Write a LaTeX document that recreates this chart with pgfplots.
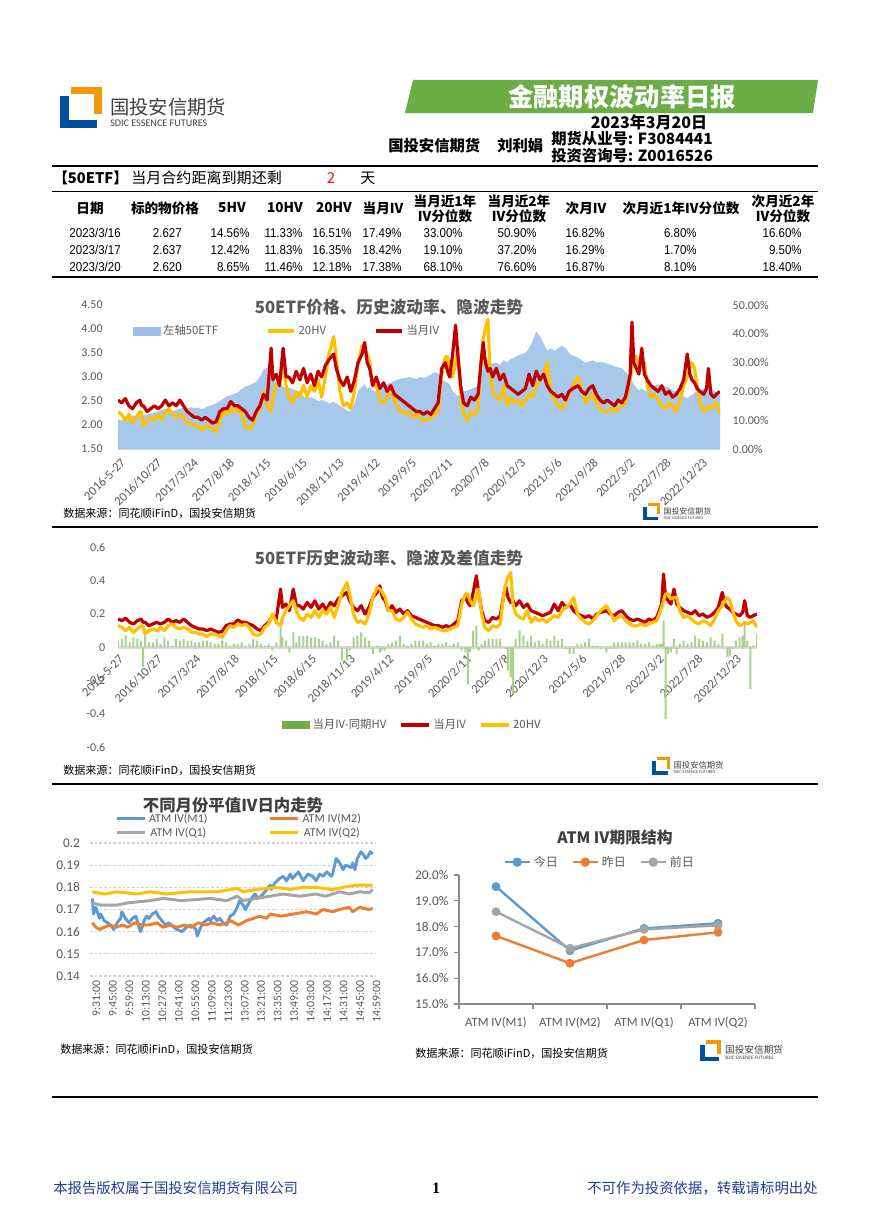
\documentclass[border=0pt]{standalone}
\usepackage{fontspec}
\usepackage{pgfplots}
\usepackage{pgfplotstable}
\pgfplotsset{compat=1.18}
\setmainfont{Carlito}
\newfontfamily\cjk{Noto Sans CJK SC}
\newfontfamily\arial[FakeStretch=0.9]{Liberation Sans}
\newfontfamily\lserif{Liberation Serif}
\definecolor{tgray}{HTML}{595959}
\definecolor{ivred}{HTML}{C00000}
\definecolor{hvyel}{HTML}{FFC000}
\definecolor{barblue}{HTML}{A7C8EA}
\definecolor{lblue}{HTML}{5B9BD5}
\definecolor{lorange}{HTML}{ED7D31}
\definecolor{lgray}{HTML}{A5A5A5}
\definecolor{lgreen}{HTML}{A9D18E}
\definecolor{dgreen}{HTML}{70AD47}
\definecolor{banner}{HTML}{6CAE45}
\definecolor{footblue}{HTML}{1F3F8F}
\definecolor{logoorange}{HTML}{F39800}
\definecolor{logoblue}{HTML}{0050A0}
\definecolor{logotext}{HTML}{404040}

\pgfplotstableread{
d p iv hv df
0 2.12 0.170 0.130 0.04
10 2.10 0.160 0.120 0.05
20 2.14 0.175 0.100 0.07
30 2.18 0.150 0.120 0.03
40 2.20 0.140 0.090 0.06
50 2.18 0.160 0.110 0.05
60 2.22 0.170 0.130 0.04
65 2.21 0.150 0.125 -0.12
70 2.20 0.150 0.080 0.07
80 2.22 0.130 0.100 0.03
90 2.24 0.140 0.110 0.03
100 2.25 0.150 0.100 0.05
110 2.28 0.140 0.120 0.02
120 2.32 0.150 0.100 0.06
130 2.33 0.170 0.130 0.04
140 2.30 0.150 0.140 0.01
150 2.28 0.160 0.120 0.05
160 2.32 0.150 0.110 0.04
170 2.34 0.170 0.120 0.05
180 2.36 0.150 0.110 0.04
190 2.35 0.130 0.090 0.04
200 2.37 0.120 0.090 0.03
210 2.35 0.110 0.080 0.03
220 2.36 0.110 0.080 0.04
230 2.33 0.100 0.065 0.04
240 2.36 0.110 0.080 0.03
250 2.40 0.100 0.080 0.02
260 2.42 0.090 0.070 0.02
270 2.45 0.095 0.060 0.04
280 2.50 0.130 0.100 0.03
290 2.55 0.140 0.130 0.01
300 2.60 0.140 0.120 0.02
310 2.62 0.165 0.140 0.02
320 2.65 0.150 0.130 0.03
330 2.68 0.150 0.140 0.01
340 2.75 0.140 0.120 0.02
350 2.80 0.130 0.080 0.05
360 2.82 0.110 0.070 0.04
370 2.86 0.100 0.080 0.02
380 2.90 0.130 0.120 0.01
390 3.00 0.150 0.140 0.02
400 3.15 0.190 0.200 -0.02
410 3.20 0.170 0.150 0.03
421 3.10 0.350 0.130 0.12
426 2.95 0.240 0.180 0.06
435 2.90 0.260 0.220 0.04
444 2.85 0.220 0.250 -0.03
454 2.80 0.350 0.280 0.09
462 2.75 0.250 0.220 0.03
470 2.78 0.250 0.180 0.07
480 2.75 0.230 0.160 0.07
490 2.72 0.270 0.200 0.07
500 2.70 0.240 0.180 0.06
510 2.60 0.280 0.220 0.06
520 2.55 0.230 0.180 0.05
530 2.58 0.260 0.220 0.04
540 2.55 0.220 0.200 0.02
550 2.50 0.270 0.240 0.03
560 2.52 0.250 0.180 0.07
570 2.50 0.290 0.250 0.04
580 2.45 0.310 0.330 -0.08
593 2.48 0.330 0.390 -0.08
600 2.45 0.280 0.320 -0.02
610 2.40 0.240 0.200 0.06
620 2.35 0.220 0.150 0.07
630 2.30 0.250 0.160 0.09
640 2.28 0.200 0.140 0.06
650 2.45 0.240 0.200 0.04
660 2.70 0.300 0.300 -0.04
671 2.80 0.330 0.360 0.01
678 2.85 0.370 0.350 -0.03
685 2.75 0.300 0.330 -0.02
692 2.80 0.280 0.300 -0.02
700 2.72 0.220 0.220 0.02
710 2.70 0.250 0.220 0.03
720 2.75 0.210 0.170 0.04
730 2.80 0.230 0.160 0.07
740 2.85 0.200 0.180 0.02
750 2.88 0.220 0.210 0.01
760 2.92 0.190 0.170 0.02
770 2.95 0.180 0.140 0.04
780 2.97 0.170 0.130 0.04
790 2.98 0.160 0.120 0.04
800 3.00 0.150 0.130 0.02
810 2.98 0.140 0.110 0.03
820 2.96 0.130 0.120 0.01
830 3.00 0.130 0.110 0.02
840 2.98 0.120 0.100 0.02
850 3.00 0.130 0.100 0.03
860 3.05 0.120 0.110 0.01
870 3.10 0.140 0.120 0.02
880 3.08 0.160 0.130 0.03
890 2.95 0.280 0.260 -0.02
900 2.90 0.300 0.320 -0.03
906 2.88 0.270 0.320 -0.22
912 2.85 0.250 0.280 -0.03
920 2.70 0.330 0.250 0.10
928 2.65 0.430 0.300 0.13
934 2.60 0.330 0.350 -0.02
942 2.65 0.220 0.200 0.02
950 2.70 0.160 0.120 0.04
960 2.72 0.150 0.100 0.05
970 2.75 0.180 0.130 0.05
980 2.78 0.170 0.120 0.05
990 2.80 0.190 0.140 0.05
998 2.95 0.300 0.300 0.00
1004 3.25 0.370 0.380 -0.01
1010 3.35 0.300 0.420 -0.14
1017 3.35 0.270 0.450 -0.18
1023 3.30 0.280 0.260 -0.28
1030 3.28 0.250 0.200 0.05
1040 3.30 0.280 0.180 0.10
1050 3.25 0.240 0.170 0.07
1060 3.35 0.260 0.220 0.04
1070 3.30 0.220 0.150 0.07
1080 3.38 0.210 0.180 0.03
1090 3.40 0.200 0.160 0.04
1100 3.45 0.190 0.170 0.02
1110 3.48 0.200 0.150 0.05
1120 3.50 0.210 0.170 0.04
1130 3.60 0.260 0.190 0.07
1140 3.75 0.220 0.180 0.04
1150 3.95 0.270 0.220 0.05
1160 3.85 0.240 0.240 -0.01
1170 3.70 0.260 0.260 -0.04
1180 3.55 0.220 0.300 -0.04
1190 3.60 0.200 0.200 0.02
1200 3.55 0.190 0.170 0.02
1210 3.60 0.180 0.150 0.03
1220 3.65 0.190 0.140 0.05
1230 3.60 0.170 0.160 0.01
1240 3.50 0.200 0.190 0.01
1250 3.45 0.210 0.220 -0.01
1265 3.40 0.220 0.250 -0.03
1275 3.35 0.200 0.210 -0.01
1285 3.30 0.190 0.160 0.03
1295 3.32 0.210 0.180 0.03
1305 3.35 0.220 0.190 0.03
1315 3.30 0.190 0.160 0.03
1325 3.32 0.170 0.140 0.03
1335 3.30 0.160 0.130 0.03
1345 3.28 0.170 0.130 0.04
1355 3.25 0.160 0.140 0.02
1365 3.22 0.150 0.130 0.02
1375 3.20 0.170 0.140 0.03
1385 3.18 0.160 0.150 0.01
1395 3.10 0.180 0.160 0.02
1402 3.05 0.220 0.200 0.02
1408 2.98 0.260 0.240 0.02
1413 2.92 0.440 0.280 0.16
1418 2.85 0.300 0.320 -0.43
1425 2.78 0.280 0.320 -0.04
1432 2.72 0.260 0.290 -0.03
1440 2.75 0.350 0.300 0.05
1447 2.72 0.260 0.300 -0.04
1455 2.70 0.240 0.220 0.02
1465 2.78 0.220 0.180 0.04
1475 2.82 0.210 0.190 0.02
1485 2.85 0.200 0.170 0.03
1495 2.82 0.220 0.150 0.07
1505 2.80 0.190 0.140 0.05
1515 2.78 0.200 0.160 0.04
1525 2.72 0.180 0.150 0.03
1535 2.70 0.190 0.130 0.06
1545 2.65 0.210 0.170 0.04
1555 2.60 0.240 0.220 0.02
1565 2.55 0.330 0.250 0.08
1572 2.60 0.260 0.280 0.00
1578 2.62 0.240 0.300 -0.06
1585 2.68 0.230 0.280 -0.05
1592 2.70 0.210 0.220 -0.01
1600 2.72 0.200 0.160 0.04
1610 2.75 0.190 0.130 0.06
1618 2.80 0.210 0.140 0.07
1623 2.78 0.280 0.150 0.14
1630 2.75 0.190 0.140 0.04
1638 2.72 0.180 0.150 -0.25
1645 2.68 0.190 0.160 0.01
1655 2.62 0.200 0.120 0.08
}\bigdata

\pgfplotstableread{
i v
0 0.175
1 0.168
3 0.171
6 0.166
7 0.168
10 0.165
13 0.164
17 0.162
18 0.161
21 0.164
24 0.166
25 0.169
28 0.166
31 0.164
34 0.166
37 0.167
39 0.163
41 0.160
44 0.165
46 0.167
48 0.166
51 0.168
54 0.169
56 0.167
59 0.165
62 0.163
65 0.164
69 0.162
72 0.161
76 0.160
80 0.162
83 0.163
86 0.162
88 0.161
89 0.158
92 0.162
94 0.164
99 0.166
100 0.165
103 0.167
106 0.165
108 0.166
111 0.164
114 0.163
117 0.167
120 0.168
123 0.171
125 0.174
128 0.172
130 0.170
132 0.172
135 0.175
138 0.177
141 0.175
145 0.177
148 0.179
151 0.181
152 0.179
155 0.182
159 0.184
162 0.185
165 0.183
168 0.186
170 0.184
175 0.187
177 0.185
179 0.183
183 0.186
187 0.185
190 0.183
193 0.186
196 0.185
199 0.187
203 0.185
204 0.186
207 0.193
210 0.191
213 0.188
215 0.190
220 0.189
221 0.191
223 0.188
225 0.193
228 0.196
230 0.195
232 0.193
234 0.194
236 0.196
238 0.195
}\mone

\pgfplotstableread{
i v
0 0.164
3 0.162
6 0.161
10 0.162
15 0.163
20 0.162
26 0.163
30 0.162
36 0.164
42 0.163
48 0.163
55 0.164
60 0.162
66 0.163
72 0.162
78 0.163
84 0.162
90 0.164
96 0.163
102 0.164
108 0.163
114 0.164
117 0.165
124 0.163
131 0.165
137 0.166
142 0.167
148 0.166
151 0.168
160 0.167
171 0.168
182 0.169
190 0.168
196 0.170
204 0.169
210 0.170
218 0.171
221 0.169
227 0.171
235 0.170
238 0.1705
}\mtwo

\pgfplotstableread{
i v
0 0.173
7 0.172
21 0.172
30 0.173
49 0.174
60 0.175
76 0.174
100 0.175
114 0.174
123 0.176
128 0.174
139 0.175
151 0.176
162 0.177
176 0.176
190 0.177
198 0.176
210 0.178
218 0.177
227 0.178
235 0.1775
238 0.179
}\qone

\pgfplotstableread{
i v
0 0.178
10 0.177
21 0.178
38 0.177
49 0.178
63 0.177
83 0.178
106 0.178
123 0.1795
128 0.178
139 0.179
156 0.180
168 0.179
179 0.180
190 0.180
204 0.179
213 0.180
224 0.181
238 0.181
}\qtwo

\newcommand{\sdiclogo}[3]{%
 \begin{scope}[shift={(#1,#2)}, scale=#3, transform shape]
  \fill[logoorange] (11,0) rectangle (42,7);
  \fill[logoorange] (34,0) rectangle (42,27);
  \fill[logoblue] (0,9) rectangle (9,41);
  \fill[logoblue] (0,33) rectangle (37,41);
  \node[anchor=west, text=logotext] at (50,20) {\cjk\fontsize{14.5}{15}\selectfont 国投安信期货};
  \node[anchor=west, text=logotext] at (50,36) {\fontsize{7.6}{8}\selectfont SDIC ESSENCE FUTURES};
 \end{scope}}

\begin{document}
\begin{tikzpicture}
\path[use as bounding box, fill=white] (0,0) rectangle (652.5pt,-923.25pt);
\begin{scope}[x=0.75pt, y=-0.75pt, every node/.style={inner sep=0pt}]
 % header
 \sdiclogo{60}{87}{1}
 \fill[banner] (413,80) -- (818,80) -- (813,113) -- (405,113) -- cycle;
 \node[text=white] at (622,97) {\cjk\bfseries\fontsize{19}{19}\selectfont 金融期权波动率日报};
 \node at (649,122) {\cjk\bfseries\fontsize{12}{12}\selectfont 2023年3月20日};
 \node[anchor=west] at (388,146) {\cjk\bfseries\fontsize{11.5}{12}\selectfont 国投安信期货};
 \node[anchor=west] at (497,146) {\cjk\bfseries\fontsize{11.5}{12}\selectfont 刘利娟};
 \node[anchor=west] at (551,139) {\cjk\bfseries\fontsize{11.5}{12}\selectfont 期货从业号: F3084441};
 \node[anchor=west] at (551,156) {\cjk\bfseries\fontsize{11.5}{12}\selectfont 投资咨询号: Z0016526};
 \draw[line width=1.5pt] (52,166) -- (818,166);
 % info row
 \node[anchor=west] at (53,178) {\cjk\bfseries\fontsize{11}{12}\selectfont 【50ETF】};
 \node[anchor=west] at (131,178) {\cjk\fontsize{11.3}{12}\selectfont 当月合约距离到期还剩};
 \node[text=red] at (331,178) {\cjk\fontsize{11.3}{12}\selectfont 2};
 \node at (368,178) {\cjk\fontsize{11.3}{12}\selectfont 天};
 \draw[line width=1.1pt] (52,191.5) -- (818,191.5);
 % table header
 \begin{scope}[every node/.append style={font=\cjk\bfseries\fontsize{10.2}{11.25}\selectfont, align=center}]
  \node at (90,208) {日期};
  \node at (165,208) {标的物价格};
  \node at (232,208) {5HV};
  \node at (285,208) {10HV};
  \node at (334,208) {20HV};
  \node at (383,208) {当月IV};
  \node at (445,208.5) {当月近1年\\IV分位数};
  \node at (519,208.5) {当月近2年\\IV分位数};
  \node at (586,208) {次月IV};
  \node at (681,208) {次月近1年IV分位数};
  \node at (783,208.5) {次月近2年\\IV分位数};
 \end{scope}
 \begin{scope}[every node/.append style={font=\arial\fontsize{9.6}{10}\selectfont, anchor=east}]
  \foreach \yy/\a/\b/\c/\d/\e/\f/\g/\h/\i/\j/\k in {
   233/2023\slash 3\slash 16/2.627/14.56\%/11.33\%/16.51\%/17.49\%/33.00\%/50.90\%/16.82\%/6.80\%/16.60\%,
   250/2023\slash 3\slash 17/2.637/12.42\%/11.83\%/16.35\%/18.42\%/19.10\%/37.20\%/16.29\%/1.70\%/9.50\%,
   267/2023\slash 3\slash 20/2.620/8.65\%/11.46\%/12.18\%/17.38\%/68.10\%/76.60\%/16.87\%/8.10\%/18.40\%}{
   \node at (121,\yy) {\a};
   \node at (182,\yy) {\b};
   \node at (250,\yy) {\c};
   \node at (303,\yy) {\d};
   \node at (352,\yy) {\e};
   \node at (402,\yy) {\f};
   \node at (463,\yy) {\g};
   \node at (537,\yy) {\h};
   \node at (605,\yy) {\i};
   \node at (697,\yy) {\j};
   \node at (802,\yy) {\k};
  }
 \end{scope}
 \draw[line width=1.5pt] (52,277) -- (818,277);
 % chart 1 decorations
 \node[text=tgray] at (389,307) {\cjk\bfseries\fontsize{12.5}{13}\selectfont 50ETF价格、历史波动率、隐波走势};
 \node[anchor=west] at (63,513) {\cjk\fontsize{8.3}{9}\selectfont 数据来源：同花顺iFinD，国投安信期货};
 \sdiclogo{643}{503}{0.41}
 \draw[line width=1.5pt] (52,527) -- (818,527);
 % chart 2 decorations
 \node[text=tgray] at (389,558) {\cjk\bfseries\fontsize{12.5}{13}\selectfont 50ETF历史波动率、隐波及差值走势};
 \node[anchor=west] at (63,770) {\cjk\fontsize{8.3}{9}\selectfont 数据来源：同花顺iFinD，国投安信期货};
 \sdiclogo{652}{757}{0.43}
 \draw[line width=1.5pt] (52,784) -- (818,784);
 % chart 3 and 4 decorations
 \node[text=logotext] at (233,805) {\cjk\bfseries\fontsize{12.3}{13}\selectfont 不同月份平值IV日内走势};
 \node[anchor=west] at (60,1049) {\cjk\fontsize{8.3}{9}\selectfont 数据来源：同花顺iFinD，国投安信期货};
 \node[text=logotext] at (615,838) {\cjk\bfseries\fontsize{11.8}{12}\selectfont ATM IV期限结构};
 \node[anchor=west] at (415,1053) {\cjk\fontsize{8.3}{9}\selectfont 数据来源：同花顺iFinD，国投安信期货};
 \sdiclogo{700}{1040}{0.5}
 \draw[line width=1.5pt] (52,1097) -- (818,1097);
 % footer
 \node[anchor=west, text=footblue] at (53,1188) {\cjk\fontsize{10.8}{11}\selectfont 本报告版权属于国投安信期货有限公司};
 \node at (436,1188) {\lserif\bfseries\fontsize{12}{12}\selectfont 1};
 \node[anchor=east, text=footblue] at (818,1188) {\cjk\fontsize{10.8}{11}\selectfont 不可作为投资依据，转载请标明出处};
\end{scope}

% ===== chart 1 =====
\begin{axis}[
  at={(88.5pt,-336.75pt)}, anchor=south west,
  width=451.5pt, height=108pt, scale only axis,
  xmin=0, xmax=1655, ymin=1.5, ymax=4.5,
  ytick={1.5,2,2.5,3,3.5,4,4.5},
  xtick={0,100,...,1600},
  xticklabels={2016-5-27,2016/10/27,2017/3/24,2017/8/18,2018/1/15,2018/6/15,2018/11/13,2019/4/12,2019/9/5,2020/2/11,2020/7/8,2020/12/3,2021/5/6,2021/9/28,2022/3/2,2022/7/28,2022/12/23},
  axis x line*=bottom, axis y line*=left,
  axis line style={-},
  x axis line style={draw=black!15, line width=2.2pt},
  y axis line style={draw=none},
  major tick length=0pt, tick style={draw=none},
  /pgf/number format/assume math mode=true,
  yticklabel style={font=\fontsize{9}{10}\selectfont, text=tgray, xshift=-8pt, /pgf/number format/.cd, fixed, fixed zerofill, precision=2},
  xticklabel style={font=\fontsize{9.5}{10}\selectfont, text=tgray, rotate=45, anchor=east, yshift=-9pt},
]
\addplot[fill=barblue, draw=none] table[x=d,y=p]{\bigdata} \closedcycle;
\end{axis}
\begin{axis}[
  at={(88.5pt,-336.75pt)}, anchor=south west,
  width=451.5pt, height=108pt, scale only axis,
  xmin=0, xmax=1655, ymin=0, ymax=0.5,
  ytick={0,0.1,0.2,0.3,0.4,0.5},
  hide x axis,
  axis y line*=right, axis line style={-}, y axis line style={draw=none},
  major tick length=0pt, tick style={draw=none},
  /pgf/number format/assume math mode=true,
  yticklabel={\pgfmathparse{\tick*100}\pgfmathprintnumber[fixed,fixed zerofill,precision=2]{\pgfmathresult}\%},
  yticklabel style={font=\fontsize{9}{10}\selectfont, text=tgray, xshift=6pt},
  legend columns=3,
  legend style={at={(0.025,0.82)}, anchor=west, draw=none, fill=none, inner sep=0pt,
    font=\cjk\fontsize{8.5}{9}\selectfont, text=tgray,
    /tikz/every even column/.append style={column sep=34pt}},
  legend image code/.code={\draw[#1, line width=2.4pt] (0pt,0pt) -- (20pt,0pt);},
]
\addlegendimage{legend image code/.code={\fill[barblue!80!lblue] (0pt,-3pt) rectangle (20pt,3pt);}}
\addlegendentry{左轴50ETF}
\addplot[hvyel, line width=2.4pt, line join=round] table[x=d,y=hv]{\bigdata};
\addlegendentry{20HV}
\addplot[ivred, line width=2.4pt, line join=round] table[x=d,y=iv]{\bigdata};
\addlegendentry{当月IV}
\end{axis}

% ===== chart 2 =====
\begin{axis}[
  at={(88.5pt,-560.25pt)}, anchor=south west,
  width=479.25pt, height=149.6pt, scale only axis,
  xmin=0, xmax=1655, ymin=-0.6, ymax=0.6,
  ytick={-0.6,-0.4,-0.2,0,0.2,0.4,0.6},
  xtick={0,100,...,1600},
  xticklabels={2016-5-27,2016/10/27,2017/3/24,2017/8/18,2018/1/15,2018/6/15,2018/11/13,2019/4/12,2019/9/5,2020/2/11,2020/7/8,2020/12/3,2021/5/6,2021/9/28,2022/3/2,2022/7/28,2022/12/23},
  axis x line=middle, axis y line*=left,
  hide obscured x ticks=false, hide obscured y ticks=false,
  axis line style={-},
  x axis line style={draw=black!15, line width=2.5pt},
  y axis line style={draw=none},
  major tick length=0pt, tick style={draw=none},
  /pgf/number format/assume math mode=true,
  yticklabel style={font=\fontsize{9}{10}\selectfont, text=tgray, xshift=-6pt},
  xticklabel style={font=\fontsize{9.5}{10}\selectfont, text=tgray, rotate=45, anchor=east, yshift=-7pt},
  legend columns=3,
  legend style={at={(0.461,0.11)}, anchor=center, draw=none, fill=none, inner sep=0pt,
    font=\cjk\fontsize{8.5}{9}\selectfont, text=tgray,
    /tikz/every even column/.append style={column sep=8pt}},
  legend image code/.code={\draw[#1, line width=2.4pt] (0pt,0pt) -- (21pt,0pt);},
]
\addplot[ybar, bar width=1.5pt, bar shift=0pt, fill=lgreen, draw=none,
  legend image code/.code={\fill[dgreen] (0pt,-3pt) rectangle (21pt,3pt);}] table[x=d,y=df]{\bigdata};
\addlegendentry{当月IV-同期HV}
\addplot[ivred, line width=2.4pt, line join=round] table[x=d,y=iv]{\bigdata};
\addlegendentry{当月IV}
\addplot[hvyel, line width=2.4pt, line join=round] table[x=d,y=hv]{\bigdata};
\addlegendentry{20HV}
\end{axis}

% ===== chart 3 =====
\begin{axis}[
  at={(67.5pt,-732pt)}, anchor=south west,
  width=213.75pt, height=99.75pt, scale only axis,
  xmin=-2, xmax=240, ymin=0.14, ymax=0.2,
  ytick={0.14,0.15,0.16,0.17,0.18,0.19,0.2},
  xtick={0,14,...,238},
  xticklabels={9:31:00,9:45:00,9:59:00,10:13:00,10:27:00,10:41:00,10:55:00,11:09:00,11:23:00,13:07:00,13:21:00,13:35:00,13:49:00,14:03:00,14:17:00,14:31:00,14:45:00,14:59:00},
  axis line style={draw=none},
  major tick length=0pt, tick style={draw=none},
  ymajorgrids, grid style={draw=black!18, line width=0.8pt, dash pattern=on 2pt off 1.5pt},
  /pgf/number format/assume math mode=true,
  yticklabel style={font=\fontsize{10}{10}\selectfont, text=tgray, xshift=-4pt},
  xticklabel style={font=\fontsize{8.8}{9}\selectfont, text=tgray, rotate=90, anchor=east, yshift=-3pt},
  legend columns=2,
  legend style={at={(0.088,1.24)}, anchor=north west, draw=none, fill=none, inner sep=0pt,
    font=\fontsize{9}{9}\selectfont, text=tgray, row sep=-0.5pt,
    nodes={inner ysep=1.5pt},
    /tikz/every even column/.append style={column sep=44pt}},
  legend image code/.code={\draw[#1, line width=2.4pt] (0pt,0pt) -- (21pt,0pt);},
]
\addplot[lblue, line width=2.2pt, line join=round] table[x=i,y=v]{\mone};
\addlegendentry{ATM IV(M1)}
\addplot[lorange, line width=2.2pt, line join=round] table[x=i,y=v]{\mtwo};
\addlegendentry{ATM IV(M2)}
\addplot[lgray, line width=2.2pt, line join=round] table[x=i,y=v]{\qone};
\addlegendentry{ATM IV(Q1)}
\addplot[hvyel, line width=2.2pt, line join=round] table[x=i,y=v]{\qtwo};
\addlegendentry{ATM IV(Q2)}
\end{axis}

% ===== chart 4 =====
\begin{axis}[
  at={(344.25pt,-753pt)}, anchor=south west,
  width=222pt, height=96.75pt, scale only axis,
  xmin=-0.5, xmax=3.5, ymin=15, ymax=20,
  ytick={15,16,17,18,19,20},
  xtick={0,1,2,3},
  xticklabels={ATM IV(M1),ATM IV(M2),ATM IV(Q1),ATM IV(Q2)},
  axis x line*=bottom, axis y line*=left,
  axis line style={-, draw=black!45, line width=0.8pt},
  xtick style={draw=none}, major tick length=3.5pt, tick align=outside,
  ytick style={draw=black!45, line width=0.8pt},
  extra x ticks={-0.5,0.5,1.5,2.5,3.5}, extra x tick labels={},
  extra x tick style={xtick style={draw=black!45, line width=0.8pt}, major tick length=4pt},
  /pgf/number format/assume math mode=true,
  yticklabel={\pgfmathprintnumber[fixed,fixed zerofill,precision=1]{\tick}\%},
  yticklabel style={font=\fontsize{10}{10}\selectfont, text=tgray, xshift=-1pt},
  xticklabel style={font=\fontsize{9.5}{10}\selectfont, text=tgray, yshift=-3pt},
  legend columns=3,
  legend style={at={(0.476,1.10)}, anchor=center, draw=none, fill=none, inner sep=0pt,
    font=\cjk\fontsize{9}{9}\selectfont, text=tgray,
    /tikz/every even column/.append style={column sep=8pt}},
  legend image code/.code={\draw[#1, line width=2pt] (0pt,0pt) -- (19pt,0pt); \fill[#1] (9.5pt,0pt) circle (2.6pt);},
]
\addplot[lblue, line width=1.8pt, mark=*, mark options={fill=lblue, draw=lblue, scale=1.2}] coordinates {(0,19.55) (1,17.07) (2,17.93) (3,18.13)};
\addlegendentry{今日}
\addplot[lorange, line width=1.8pt, mark=*, mark options={fill=lorange, draw=lorange, scale=1.2}] coordinates {(0,17.64) (1,16.58) (2,17.48) (3,17.78)};
\addlegendentry{昨日}
\addplot[lgray, line width=1.8pt, mark=*, mark options={fill=lgray, draw=lgray, scale=1.2}] coordinates {(0,18.58) (1,17.16) (2,17.89) (3,18.05)};
\addlegendentry{前日}
\end{axis}
\end{tikzpicture}
\end{document}
